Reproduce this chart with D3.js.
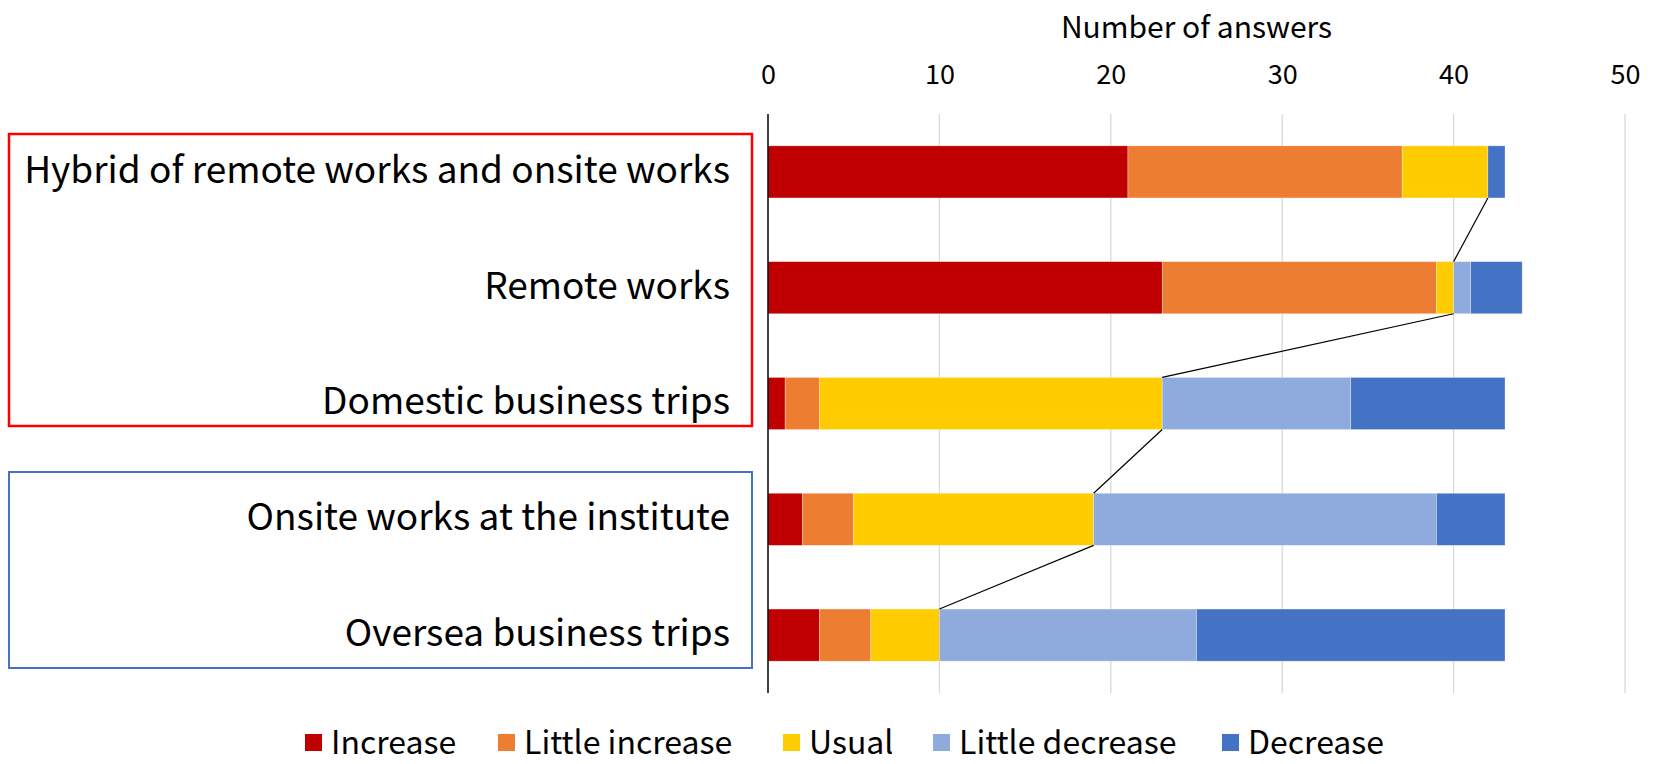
<!DOCTYPE html>
<html>
<head>
<meta charset="utf-8">
<script src="https://cdn.jsdelivr.net/npm/d3@7"></script>
<style>
  body { margin: 0; background: #fff; }
  text { font-family: "Noto Sans CJK JP", "Noto Sans", sans-serif; fill: #000; }
</style>
</head>
<body>
<div id="chart"></div>
<script>
// data
var categories = ["Hybrid of remote works and onsite works", "Remote works", "Domestic business trips",
                  "Onsite works at the institute", "Oversea business trips"];
var seriesNames = ["Increase", "Little increase", "Usual", "Little decrease", "Decrease"];
var increase       = [21, 23, 1, 2, 3];
var littleIncrease = [16, 16, 2, 3, 3];
var usual          = [5, 1, 20, 14, 4];
var littleDecrease = [0, 1, 11, 20, 15];
var decrease       = [1, 3, 9, 4, 18];
var xTicks = [0, 10, 20, 30, 40, 50];
var colors = ["#C00000", "#ED7D31", "#FFCC00", "#8FAADC", "#4472C4"];

var W = 1659, H = 764;
var margin = { top: 114, right: 34, bottom: 71, left: 768 },
    width = W - margin.left - margin.right,
    height = H - margin.top - margin.bottom;

// build rows for the stack
var rows = categories.map(function (c, i) {
    return {
        cat: c,
        "Increase": increase[i],
        "Little increase": littleIncrease[i],
        "Usual": usual[i],
        "Little decrease": littleDecrease[i],
        "Decrease": decrease[i]
    };
});

var svg = d3.select("#chart").append("svg")
    .attr("width", W).attr("height", H);

var g = svg.append("g")
    .attr("transform", "translate(" + margin.left + "," + margin.top + ")");

var x = d3.scaleLinear().domain([0, 50]).range([0, width]);
var y = d3.scaleBand().domain(categories).range([0, height]).paddingInner(0.55).paddingOuter(0.275);
var color = d3.scaleOrdinal().domain(seriesNames).range(colors);

// gridlines
g.append("g").selectAll("line").data(xTicks.slice(1)).enter().append("line")
    .attr("x1", function (d) { return x(d); }).attr("x2", function (d) { return x(d); })
    .attr("y1", 0).attr("y2", height)
    .attr("stroke", "#D9D9D9").attr("stroke-width", 1.3);

// top axis labels
var xAxis = g.append("g")
    .call(d3.axisTop(x).tickValues(xTicks).tickSize(0).tickPadding(30));
xAxis.select(".domain").remove();
xAxis.selectAll("text").attr("font-size", 27).style("font-family", "\"Noto Sans CJK JP\", sans-serif");

g.append("text")
    .attr("x", width / 2).attr("y", -76)
    .attr("text-anchor", "middle")
    .attr("font-size", 30)
    .text("Number of answers");

// stacked bars
var stacked = d3.stack().keys(seriesNames)(rows);

g.append("g").selectAll("g").data(stacked).enter().append("g")
    .attr("fill", function (d) { return color(d.key); })
    .selectAll("rect").data(function (d) { return d; }).enter().append("rect")
    .attr("x", function (d) { return x(d[0]); })
    .attr("y", function (d) { return y(d.data.cat); })
    .attr("width", function (d) { return x(d[1]) - x(d[0]); })
    .attr("height", y.bandwidth())
    .attr("stroke", "#fff").attr("stroke-width", 0.6).attr("stroke-opacity", 0.5);

// series lines at the end of "Usual"
var usualEnd = stacked[2];
var links = [];
for (var i = 0; i < usualEnd.length - 1; i++) {
    links.push({ a: usualEnd[i], b: usualEnd[i + 1] });
}
g.append("g").selectAll("line").data(links).enter().append("line")
    .attr("x1", function (d) { return x(d.a[1]); })
    .attr("y1", function (d) { return y(d.a.data.cat) + y.bandwidth(); })
    .attr("x2", function (d) { return x(d.b[1]); })
    .attr("y2", function (d) { return y(d.b.data.cat); })
    .attr("stroke", "#000").attr("stroke-width", 1.2);

// vertical axis line
g.append("line")
    .attr("x1", 0).attr("x2", 0).attr("y1", 0).attr("y2", height)
    .attr("stroke", "#000").attr("stroke-width", 1.5);

// category labels
g.append("g").selectAll("text").data(categories).enter().append("text")
    .attr("x", -38)
    .attr("y", function (d) { return y(d) + y.bandwidth() / 2 - 2; })
    .attr("dy", "0.35em")
    .attr("text-anchor", "end")
    .attr("font-size", 37)
    .text(function (d) { return d; });

// group boxes
svg.append("rect")
    .attr("x", 9).attr("y", 134).attr("width", 743).attr("height", 292)
    .attr("fill", "none").attr("stroke", "#FF0000").attr("stroke-width", 2.5);
svg.append("rect")
    .attr("x", 9).attr("y", 472).attr("width", 743).attr("height", 196)
    .attr("fill", "none").attr("stroke", "#4472C4").attr("stroke-width", 2);

// legend
var legendX = [305, 498, 783, 933, 1222];
var legend = svg.selectAll(".legend").data(seriesNames).enter().append("g")
    .attr("class", "legend")
    .attr("transform", function (d, i) { return "translate(" + legendX[i] + ",743)"; });
legend.append("rect")
    .attr("x", 0).attr("y", -9).attr("width", 17).attr("height", 17)
    .attr("fill", function (d) { return color(d); });
legend.append("text")
    .attr("x", 26).attr("y", 0).attr("dy", "0.35em")
    .attr("font-size", 32)
    .text(function (d) { return d; });
</script>
</body>
</html>
